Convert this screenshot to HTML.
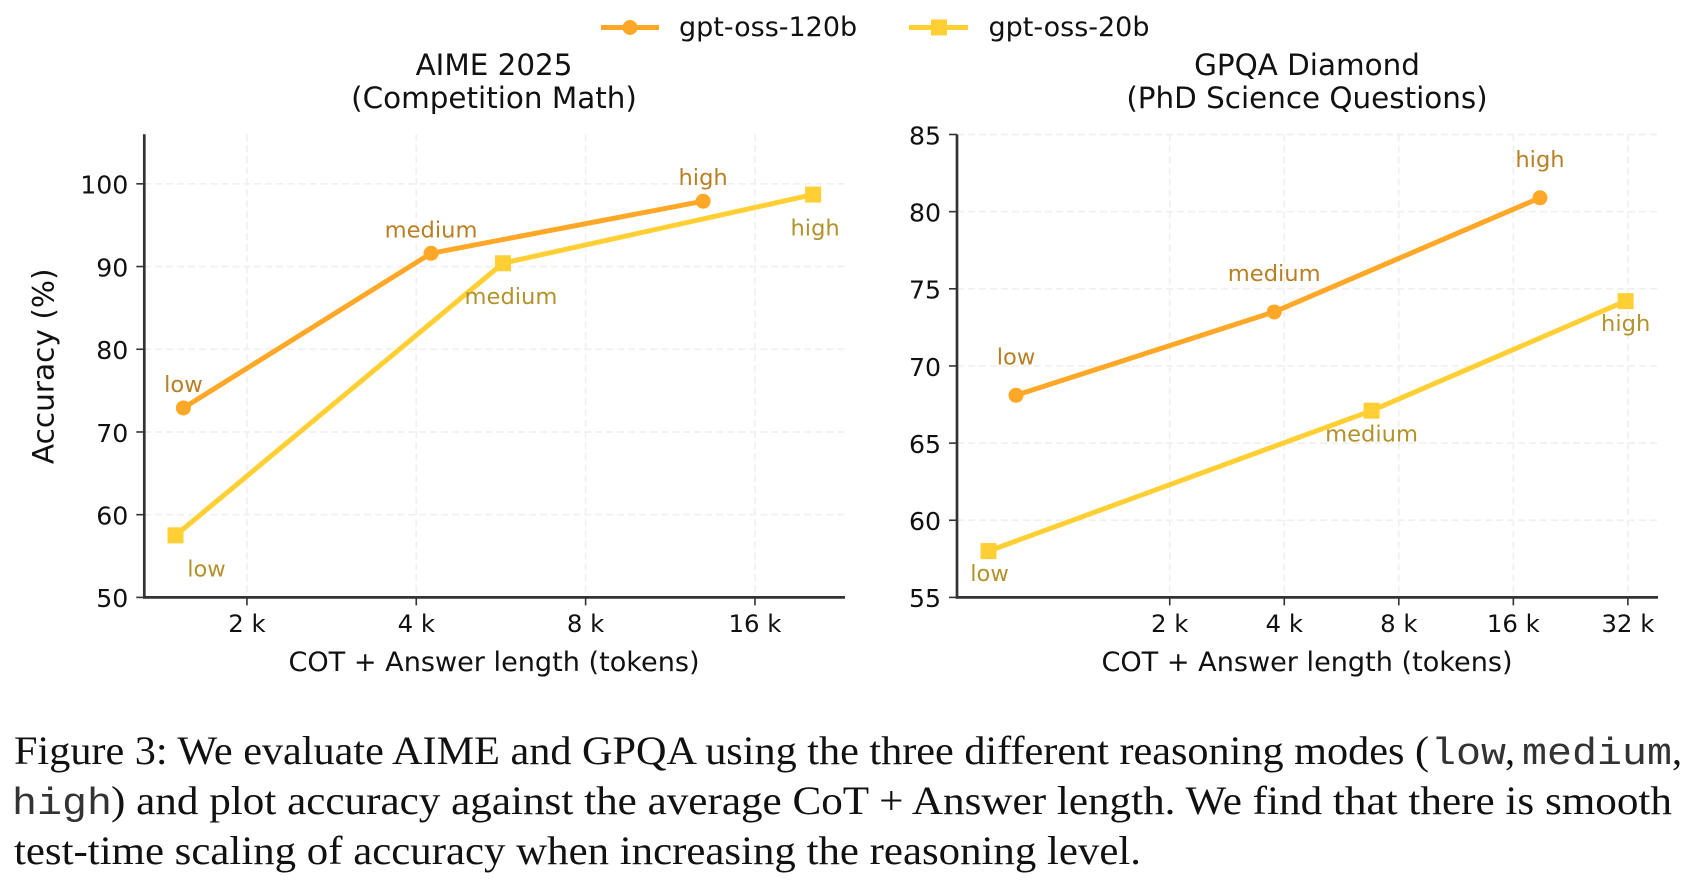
<!DOCTYPE html>
<html lang="en">
<head>
<meta charset="utf-8">
<title>Accuracy vs. CoT + Answer length</title>
<style>
html,body{margin:0;padding:0;background:#fff;width:1696px;height:882px;overflow:hidden}
svg{display:block}
.dj{font-family:"DejaVu Sans","Liberation Sans",sans-serif;fill:#111}
.cap{font-family:"Liberation Serif",serif;font-size:40px;fill:#111}
.capm{font-family:"Liberation Mono",monospace;font-size:38px;fill:#333}
</style>
</head>
<body>
<svg id="fig" xmlns="http://www.w3.org/2000/svg" width="1696" height="882" viewBox="0 0 1696 882">
  <g>
    <g>
      <line x1="601" y1="27.5" x2="659" y2="27.5" stroke="#FFA726" stroke-width="5"/>
      <circle cx="630" cy="27.5" r="7.5" fill="#FFA726"/>
      <text class="dj" x="679" y="36" font-size="27">gpt-oss-120b</text>
    </g>
    <g>
      <line x1="909" y1="27.5" x2="968" y2="27.5" stroke="#FFCF33" stroke-width="5"/>
      <rect x="931" y="19.5" width="16" height="16" fill="#FFCF33"/>
      <text class="dj" x="988.5" y="36" font-size="27">gpt-oss-20b</text>
    </g>
  </g>
  <g id="charts"></g>
  <g>
    <text class="cap" x="14" y="764" textLength="1415" lengthAdjust="spacingAndGlyphs">Figure 3:  We evaluate AIME and GPQA using the three different reasoning modes (</text>
    <text class="capm" x="1431" y="764" textLength="75" lengthAdjust="spacingAndGlyphs">low</text>
    <text class="cap" x="1505" y="764">,</text>
    <text class="capm" x="1522" y="764" textLength="150" lengthAdjust="spacingAndGlyphs">medium</text>
    <text class="cap" x="1672" y="764">,</text>
    <text class="capm" x="12" y="814" textLength="100" lengthAdjust="spacingAndGlyphs">high</text>
    <text class="cap" x="111" y="814" textLength="1561" lengthAdjust="spacingAndGlyphs">) and plot accuracy against the average CoT + Answer length.  We find that there is smooth</text>
    <text class="cap" x="14" y="864" textLength="1127" lengthAdjust="spacingAndGlyphs">test-time scaling of accuracy when increasing the reasoning level.</text>
  </g>
</svg>
<script>
// Left chart data: AIME 2025
const aimeTokens120b = [1542, 4250, 12940];
const aimeAccuracy120b = [72.9, 91.6, 97.9];
const aimeTokens20b = [1493, 5704, 20300];
const aimeAccuracy20b = [57.5, 90.4, 98.7];
const aimeXTicks = [2000, 4000, 8000, 16000];
const aimeXTickLabels = ['2 k', '4 k', '8 k', '16 k'];
const aimeYTicks = [50, 60, 70, 80, 90, 100];

// Right chart data: GPQA Diamond
const gpqaTokens120b = [789, 3764, 18800];
const gpqaAccuracy120b = [68.1, 73.5, 80.9];
const gpqaTokens20b = [668, 6785, 31570];
const gpqaAccuracy20b = [58.0, 67.1, 74.2];
const gpqaXTicks = [2000, 4000, 8000, 16000, 32000];
const gpqaXTickLabels = ['2 k', '4 k', '8 k', '16 k', '32 k'];
const gpqaYTicks = [55, 60, 65, 70, 75, 80, 85];

const reasoningLevels = ['low', 'medium', 'high'];

const NS = 'http://www.w3.org/2000/svg';
const root = document.getElementById('charts');

function make(tag, attrs, parent, text) {
  const n = document.createElementNS(NS, tag);
  for (const k in attrs) n.setAttribute(k, attrs[k]);
  if (text !== undefined) n.textContent = text;
  parent.appendChild(n);
  return n;
}

function drawChart(cfg) {
  const g = make('g', {}, root);
  
  

  const left = cfg.left, right = cfg.right, top = cfg.top, bottom = cfg.bottom;
  const xScale = v => left + (Math.log2(v) - Math.log2(cfg.xMin)) / (Math.log2(cfg.xMax) - Math.log2(cfg.xMin)) * (right - left);
  const yScale = v => bottom - (v - cfg.yMin) / (cfg.yMax - cfg.yMin) * (bottom - top);

  cfg.titleLines.forEach((line, i) => {
    const t = make('text', {class: 'dj', x: cfg.titleX, y: 75 + i * 33, 'font-size': 29.4, 'text-anchor': 'middle'}, g, line);
    
    
  });

  // gridlines
  cfg.xTicks.forEach(v => {
    const l = make('line', {x1: xScale(v), x2: xScale(v), y1: top, y2: bottom, stroke: '#f0f0f0', 'stroke-width': 1.7, 'stroke-dasharray': '7 4'}, g);
    
    
  });
  cfg.yTicks.forEach(v => {
    if (v === cfg.yMin) return;
    const l = make('line', {x1: left, x2: right, y1: yScale(v), y2: yScale(v), stroke: '#f0f0f0', 'stroke-width': 1.7, 'stroke-dasharray': '7 4'}, g);
    
    
  });

  // axes
  const yAxis = make('line', {x1: left, x2: left, y1: top, y2: bottom + 1.2, stroke: '#333', 'stroke-width': 2.7}, g);
  
  
  const xAxis = make('line', {x1: left - 1.3, x2: right, y1: bottom, y2: bottom, stroke: '#333', 'stroke-width': 2.7}, g);
  
  

  // ticks
  cfg.xTicks.forEach((v, i) => {
    const m = make('line', {x1: xScale(v), x2: xScale(v), y1: bottom, y2: bottom + 8, stroke: '#333', 'stroke-width': 1.6}, g);
    
    
    const t = make('text', {class: 'dj', x: xScale(v), y: 632, 'font-size': 24.4, 'text-anchor': 'middle'}, g, cfg.xTickLabels[i]);
    
    
  });
  cfg.yTicks.forEach(v => {
    const m = make('line', {x1: left - 8, x2: left, y1: yScale(v), y2: yScale(v), stroke: '#333', 'stroke-width': 1.6}, g);
    
    
    const t = make('text', {class: 'dj', x: left - 16, y: yScale(v) + 9.8, 'font-size': 25.2, 'text-anchor': 'end'}, g, String(v));
    
    
  });

  const xl = make('text', {class: 'dj', x: cfg.titleX, y: 671, 'font-size': 27.1, 'text-anchor': 'middle'}, g, 'COT + Answer length (tokens)');
  
  

  if (cfg.yTitle) {
    const yl = make('text', {class: 'dj', x: 0, y: 0, 'font-size': 29.6, 'text-anchor': 'middle', transform: 'translate(53.5 ' + ((top + bottom) / 2 + 0.5) + ') rotate(-90)'}, g, cfg.yTitle);
    
    
  }

  // series
  cfg.series.forEach(s => {
    const sg = make('g', {}, g);
    
    
    const pts = s.tokens.map((v, i) => xScale(v).toFixed(1) + ',' + yScale(s.accuracy[i]).toFixed(1)).join(' ');
    const line = make('polyline', {points: pts, fill: 'none', stroke: s.color, 'stroke-width': 5, 'stroke-linejoin': 'round'}, sg);
    
    
    s.tokens.forEach((v, i) => {
      const px = xScale(v), py = yScale(s.accuracy[i]);
      let mk;
      if (s.marker === 'circle') {
        mk = make('circle', {cx: px, cy: py, r: 7.5, fill: s.color}, sg);
      } else {
        mk = make('rect', {x: px - 8, y: py - 8, width: 16, height: 16, fill: s.color}, sg);
      }
      
      
      const off = s.labelOffsets[i];
      const lb = make('text', {class: 'dj', x: px + off[0], y: py + off[1], 'font-size': 22.6, 'text-anchor': 'middle', style: 'fill:' + s.labelColor}, sg, reasoningLevels[i]);
      
      
    });
  });
}

drawChart({
  id: 'aime', left: 144.3, right: 845, top: 134.2, bottom: 597.4,
  xMin: 1314, xMax: 23130, yMin: 50, yMax: 106, titleX: 494,
  titleLines: ['AIME 2025', '(Competition Math)'],
  xTicks: aimeXTicks, xTickLabels: aimeXTickLabels, yTicks: aimeYTicks, yTitle: 'Accuracy (%)',
  series: [
    {name: 'gpt-oss-120b', tokens: aimeTokens120b, accuracy: aimeAccuracy120b, color: '#FFA726', labelColor: '#B97F24', marker: 'circle',
     labelOffsets: [[0, -16], [0, -16], [0, -16]]},
    {name: 'gpt-oss-20b', tokens: aimeTokens20b, accuracy: aimeAccuracy20b, color: '#FFCF33', labelColor: '#B2932B', marker: 'square',
     labelOffsets: [[31, 41], [8, 41], [2, 41]]}
  ]
});

drawChart({
  id: 'gpqa', left: 957, right: 1658, top: 134.5, bottom: 597.4,
  xMin: 552, xMax: 38400, yMin: 55, yMax: 85, titleX: 1307,
  titleLines: ['GPQA Diamond', '(PhD Science Questions)'],
  xTicks: gpqaXTicks, xTickLabels: gpqaXTickLabels, yTicks: gpqaYTicks,
  series: [
    {name: 'gpt-oss-120b', tokens: gpqaTokens120b, accuracy: gpqaAccuracy120b, color: '#FFA726', labelColor: '#B97F24', marker: 'circle',
     labelOffsets: [[0, -31], [0, -31], [0, -31]]},
    {name: 'gpt-oss-20b', tokens: gpqaTokens20b, accuracy: gpqaAccuracy20b, color: '#FFCF33', labelColor: '#B2932B', marker: 'square',
     labelOffsets: [[1, 30], [0, 31], [0, 30]]}
  ]
});
</script>
</body>
</html>
